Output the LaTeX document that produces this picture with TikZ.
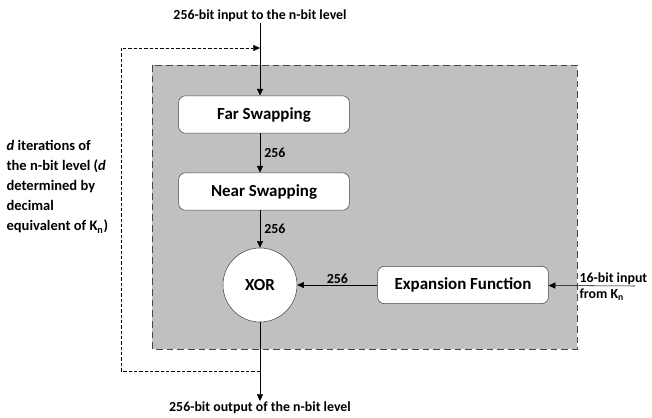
\documentclass[tikz,border=0pt]{standalone}
\usepackage{fontspec}
\setmainfont{Carlito}
\usetikzlibrary{arrows.meta}

\definecolor{panelgray}{RGB}{192,192,192}
\definecolor{edgegray}{RGB}{70,70,70}

\tikzset{
    stage/.style={draw=edgegray, fill=white, rounded corners=5pt, minimum width=128pt,
        minimum height=28pt, font=\fontsize{12.7}{14}\selectfont\bfseries},
    gate/.style={draw=edgegray, fill=white, circle, minimum size=55.5pt,
        font=\fontsize{12.7}{14}\selectfont\bfseries},
    flow/.style={-{Triangle[length=5pt,width=4.5pt]}, black},
    lbl/.style={font=\fontsize{10.4}{12}\selectfont\bfseries, inner sep=1pt},
}

\begin{document}
\begin{tikzpicture}[x=0.75pt, y=-0.75pt]

    % Fix the page size
    \useasboundingbox (0,0) rectangle (652,417);

    % Gray panel of the n-bit level
    \draw[fill=panelgray, draw=edgegray, dashed, dash pattern=on 5pt off 3pt]
        (152,65) rectangle (577,349);

    % Define the points of the loop and the ends
    \coordinate (in) at (260,23);
    \coordinate (out) at (260,401);
    \coordinate (keyin) at (635,286);
    \coordinate (loopend) at (260,48);
    \coordinate (loopstart) at (260,371);

    % Draw the blocks
    \node[stage] (far) at (264,114.5) {Far Swapping};
    \node[stage] (near) at (264,191.5) {Near Swapping};
    \node[gate] (xor) at (260,285) {XOR};
    \node[stage] (exp) at (463,285) {Expansion Function};

    % Draw the feedback loop
    \draw[flow, dashed, dash pattern=on 2.5pt off 1.5pt, thin]
        (loopstart) -- (121,371) -- (121,48) -- (loopend);

    % Draw the connectors
    \draw[flow] (in) -- (far.north -| in);
    \draw[flow] (far.south -| xor) -- node[lbl, right, xshift=2pt] {256} (near.north -| xor);
    \draw[flow] (near.south -| xor) -- node[lbl, right, xshift=2pt] {256} (xor);
    \draw[flow] (exp) -- node[lbl, above] {256} (xor);
    \draw[flow] (keyin) -- (exp);
    \draw[flow] (xor) -- (out);

    % Add the texts
    \node[lbl, above] at (in) {256-bit input to the n-bit level};
    \node[lbl, below, inner sep=0pt] at (out) {256-bit output of the n-bit level};
    \node[lbl, anchor=south west, align=left] at (578,286) {16-bit input};
    \node[lbl, anchor=north west, align=left] at (578,287) {from K\textsubscript{n}};
    \node[lbl, anchor=north west, align=left, font=\fontsize{10.9}{15}\selectfont\bfseries]
        at (5,139) {\textit{d} iterations of\\the n-bit level (\textit{d}\\determined by\\decimal\\equivalent of K\textsubscript{n})};

\end{tikzpicture}
\end{document}
